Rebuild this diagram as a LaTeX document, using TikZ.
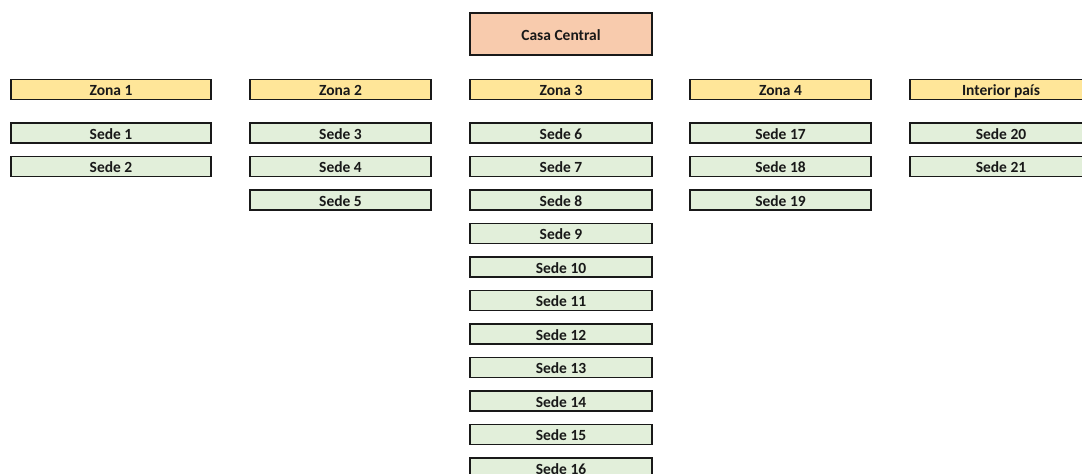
\documentclass[tikz,border=0pt]{standalone}
\usepackage{fontspec}
\setmainfont{Carlito}
\begin{document}
\begin{tikzpicture}[x=1pt,y=-1pt,
  box/.style={draw=black!90,line width=1.8pt,inner sep=0pt,
    text height=12pt,text depth=0pt,
    font=\fontsize{15.5}{18}\selectfont\bfseries,text=black!90},
  central/.style={box,fill=casa,minimum width=182pt,minimum height=42pt},
  zone/.style={box,fill=zona,minimum height=20pt},
  sede/.style={box,fill=sedefill,minimum height=20pt}]
\definecolor{casa}{HTML}{F8CBAD}
\definecolor{zona}{HTML}{FFE699}
\definecolor{sedefill}{HTML}{E2EFDA}
\useasboundingbox (0,0) rectangle (1082,474);
\clip (0,0) rectangle (1082,474);

% headquarters
\node[central] (cc) at (561,34) {Casa Central};

% zone headers
\node[zone,minimum width=200pt] (z1) at (111,89.5) {Zona 1};
\node[zone,minimum width=181pt] (z2) at (340.5,89.5) {Zona 2};
\node[zone,minimum width=182pt] (z3) at (561,89.5) {Zona 3};
\node[zone,minimum width=181pt] (z4) at (780.5,89.5) {Zona 4};
\node[zone,minimum width=182pt] (z5) at (1001,89.5) {Interior país};

% branches, one column per zone
\foreach \n [count=\i from 0] in {1,2}
  \node[sede,minimum width=200pt] (s\n) at (111,133+33.5*\i) {Sede \n};
\foreach \n [count=\i from 0] in {3,4,5}
  \node[sede,minimum width=181pt] (s\n) at (340.5,133+33.5*\i) {Sede \n};
\foreach \n [count=\i from 0] in {6,...,16}
  \node[sede,minimum width=182pt] (s\n) at (561,133+33.5*\i) {Sede \n};
\foreach \n [count=\i from 0] in {17,18,19}
  \node[sede,minimum width=181pt] (s\n) at (780.5,133+33.5*\i) {Sede \n};
\foreach \n [count=\i from 0] in {20,21}
  \node[sede,minimum width=182pt] (s\n) at (1001,133+33.5*\i) {Sede \n};
\end{tikzpicture}
\end{document}
